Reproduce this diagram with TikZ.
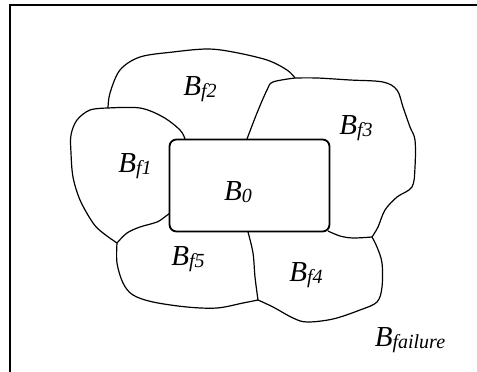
\documentclass[tikz,border=0pt]{standalone}
\usepackage{fontspec}
\setmainfont{Liberation Serif}
\begin{document}
\begin{tikzpicture}[x=1pt,y=-1pt,
  blob/.style={draw=black, line width=1.2pt, smooth, tension=0.55},
  frame/.style={draw=black, line width=2pt},
  lbl/.style={inner sep=0pt, font=\fontsize{29}{31}\selectfont\itshape},
]
\newcommand{\sub}[1]{\raisebox{-2.5pt}{\fontsize{20}{21}\selectfont #1}}
\useasboundingbox (0,0) rectangle (477,372);
% frame (top and left edges)
\draw[frame] (9.5,372) -- (9.5,4.5) -- (477,4.5);
% outer boundaries
\draw[blob] plot coordinates {(108,108) (110,93) (120,70) (140,57) (173,52) (207,49) (233,52) (267,60) (287,70) (295,78)};
\draw[blob] plot coordinates {(295,78) (317,78) (350,80) (383,82) (397,90) (403,107) (410,127) (415,140) (415,167) (412,187) (397,197) (385,210) (378,227) (372,237)};
\draw[blob] plot coordinates {(372,237) (353,238) (340,236) (328,231)};
\draw[blob] plot coordinates {(295,78) (273,82) (267,90) (257,113) (247,139)};
\draw[blob] plot coordinates {(108,108) (140,108) (163,117) (180,130) (185,139)};
\draw[blob] plot coordinates {(108,108) (90,110) (77,120) (71,135) (71,153) (73,177) (80,200) (93,223) (103,233) (117,243)};
\draw[blob] plot coordinates {(117,243) (127,233) (140,227) (157,222) (166,216) (170,213)};
\draw[blob] plot coordinates {(117,243) (117,263) (123,283) (133,295) (153,302) (187,307) (217,308) (243,303) (258,300)};
\draw[blob] plot coordinates {(248,232) (253,253) (255,277) (258,300)};
\draw[blob] plot coordinates {(258,300) (273,307) (293,318) (307,322) (333,319) (360,310) (377,302) (382,287) (382,263) (377,247) (372,237)};
% B0 rectangle
\node[draw=black, line width=1.8pt, rounded corners=7pt, fill=white,
  minimum width=160pt, minimum height=92pt, inner sep=0pt] (b0) at (249.5,185.5) {};
% labels
\node[lbl] (l0) at (238,192) {B\sub{0}};
\node[lbl] (l1) at (135,166) {B\sub{f1}};
\node[lbl] (l2) at (200,89) {B\sub{f2}};
\node[lbl] (l3) at (356,128) {B\sub{f3}};
\node[lbl] (l4) at (306,275) {B\sub{f4}};
\node[lbl] (l5) at (188,259) {B\sub{f5}};
\node[lbl] (lf) at (410,340) {B\sub{failure}};
\end{tikzpicture}
\end{document}
